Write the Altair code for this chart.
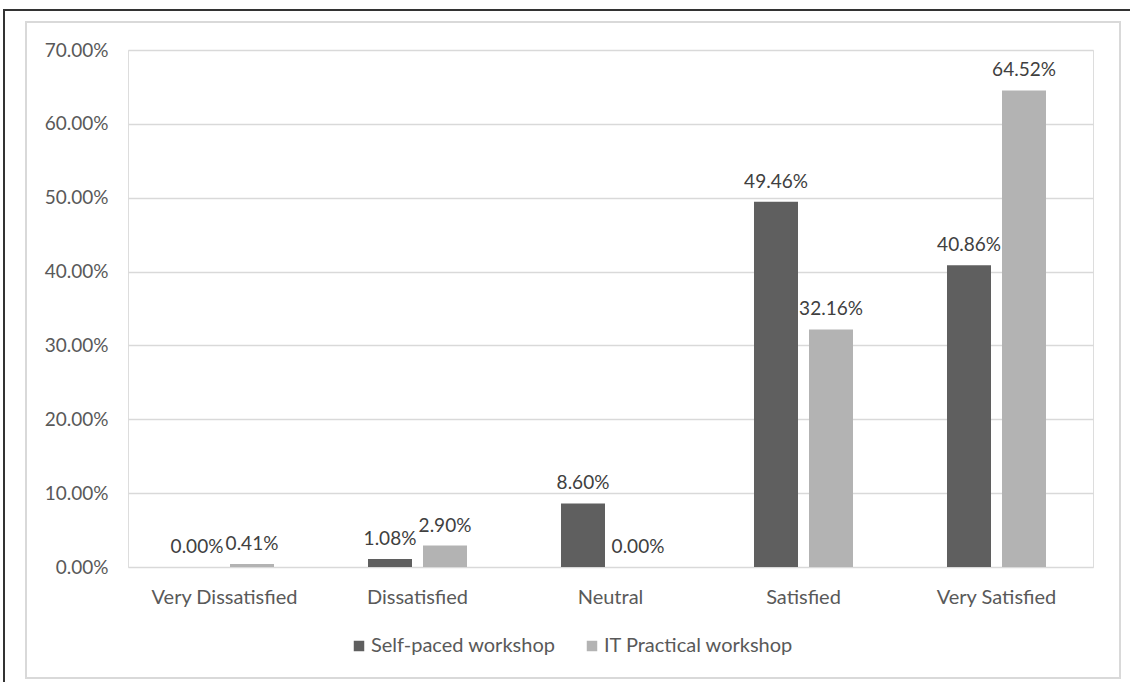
import altair as alt
import pandas as pd

categories = ["Very Dissatisfied", "Dissatisfied", "Neutral", "Satisfied", "Very Satisfied"]
series = ["Self-paced workshop", "IT Practical workshop"]
self_paced = [0.0000, 0.0108, 0.0860, 0.4946, 0.4086]
it_practical = [0.0041, 0.0290, 0.0000, 0.3216, 0.6452]
y_ticks = [0, 0.1, 0.2, 0.3, 0.4, 0.5, 0.6, 0.7]

rows = []
for c, a, b in zip(categories, self_paced, it_practical):
    rows.append({"cat": c, "series": series[0], "val": a})
    rows.append({"cat": c, "series": series[1], "val": b})
df = pd.DataFrame(rows)

FONT = "Lato"
x = alt.X("cat:N", sort=categories, title=None,
          scale=alt.Scale(paddingInner=0.43, paddingOuter=0.215),
          axis=alt.Axis(labelAngle=0, domain=False, ticks=False, labelPadding=20,
                        labelFontSize=20, labelColor="#595959", labelFont=FONT))
xo = alt.XOffset("series:N", sort=series,
                 scale=alt.Scale(paddingInner=0.2, paddingOuter=0.1))
y = alt.Y("val:Q", title=None,
          scale=alt.Scale(domain=[0, 0.7], nice=False),
          axis=alt.Axis(values=y_ticks, format=".2%", domain=False, ticks=False,
                        labelPadding=20, labelFontSize=19, labelColor="#595959",
                        labelFont=FONT, gridColor="#d9d9d9", gridWidth=1.5))

base = alt.Chart(df)
bars = base.mark_bar().encode(
    x=x, xOffset=xo, y=y,
    color=alt.Color("series:N", sort=series,
                    scale=alt.Scale(domain=series, range=["#5f5f5f", "#b3b3b3"]),
                    legend=alt.Legend(title=None, orient="none", legendX=221, legendY=586,
                                      direction="horizontal", symbolType="square",
                                      symbolSize=110, symbolStrokeWidth=0,
                                      labelFontSize=20, labelColor="#595959",
                                      labelFont=FONT, columnPadding=26, labelOffset=2,
                                      labelLimit=400, padding=0)),
)
labels = base.mark_text(dy=-14, baseline="alphabetic", fontSize=19, font=FONT,
                        color="#404040").encode(
    x=x, xOffset=xo, y=y, text=alt.Text("val:Q", format=".2%"))

frame = pd.DataFrame({"k": [0]})
outer = alt.Chart(frame).mark_rect(fill=None, stroke="#333333", strokeWidth=2, clip=False).encode(
    x=alt.value(-124), x2=alt.value(1012), y=alt.value(-40), y2=alt.value(645))
inner = alt.Chart(frame).mark_rect(fill=None, stroke="#d9d9d9", strokeWidth=2, clip=False).encode(
    x=alt.value(-102), x2=alt.value(992), y=alt.value(-28), y2=alt.value(628))

chart = alt.layer(outer, inner, bars, labels).properties(
    width=965, height=517,
    padding={"left": 128, "top": 50, "right": 37, "bottom": 115},
    autosize="none",
).configure_view(stroke=None).configure(background="white")

chart.save("out.html", embed_options={"renderer": "svg", "actions": False})
